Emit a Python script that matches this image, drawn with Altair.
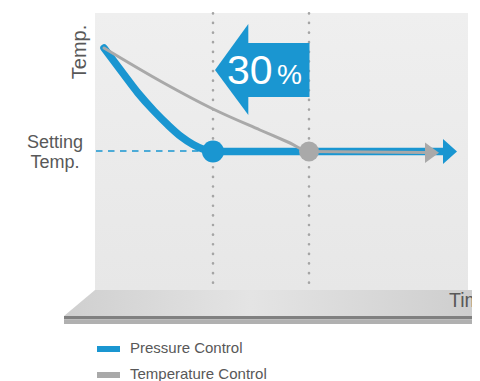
import altair as alt
import pandas as pd

# ---- values (time -> horizontal, temperature -> vertical, picture units) ----
pressure_time = [104, 122, 138, 154, 168, 181, 193, 204, 213, 444]
pressure_temp = [48, 72, 93, 111, 125, 136.5, 144.5, 149.5, 151.5, 151.5]
temperature_time = [104, 162, 213, 260, 290, 309, 426]
temperature_temp = [48, 82, 109, 130, 143, 151.5, 152.5]
reach_time = [213, 309]
reach_temp = [151.5, 151.5]
setting_temp = 151
time_start = 95
time_end = 468
temp_top = 13
temp_bottom = 290
saving_label = "30"
saving_unit = "%"
legend_labels = ["Pressure Control", "Temperature Control"]

BLUE = "#1a96d1"
GRAY = "#a9a9a9"
TEXT = "#585858"
FONT = "Liberation Sans"

XS = alt.Scale(domain=[8, 472], nice=False, zero=False)
YS = alt.Scale(domain=[8, 381], reverse=True, nice=False, zero=False)


def X(f="x"):
    return alt.X(f"{f}:Q", scale=XS, axis=None)


def Y(f="y"):
    return alt.Y(f"{f}:Q", scale=YS, axis=None)


def X2(f="x2"):
    return alt.X2(f"{f}:Q")


def Y2(f="y2"):
    return alt.Y2(f"{f}:Q")


def rect(df, color):
    return alt.Chart(df).mark_rect(color=color).encode(x=X(), x2=X2(), y=Y(), y2=Y2())


layers = []

# background panel
panel = pd.DataFrame({"x": [time_start], "x2": [time_end], "y": [temp_top], "y2": [temp_bottom]})
layers.append(alt.Chart(panel).mark_rect(
    color=alt.Gradient(gradient="linear", x1=0, x2=0, y1=0, y2=1,
                       stops=[alt.GradientStop(color="#efefef", offset=0),
                              alt.GradientStop(color="#e7e7e7", offset=1)])
).encode(x=X(), x2=X2(), y=Y(), y2=Y2()))

# floor (perspective)
floor = pd.DataFrame({"x": [64, 95, 480], "y": [316, 290, 290], "y2": [316, 316, 316]})
layers.append(alt.Chart(floor).mark_area(
    color=alt.Gradient(gradient="linear", x1=0, x2=1, y1=0, y2=0,
                       stops=[alt.GradientStop(color="#cfcfcf", offset=0),
                              alt.GradientStop(color="#e4e4e4", offset=0.45),
                              alt.GradientStop(color="#cdcdcd", offset=1)])
).encode(x=X(), y=Y(), y2=Y2()))
layers.append(rect(pd.DataFrame({"x": [64], "x2": [480], "y": [316], "y2": [319.3]}), "#808080"))
layers.append(rect(pd.DataFrame({"x": [64], "x2": [480], "y": [319.3], "y2": [324]}), "#b0b0b0"))

# dotted time markers
markers = pd.DataFrame({"x": reach_time, "y": [13.3, 13.3], "y2": [283, 283]})
layers.append(alt.Chart(markers).mark_rule(
    color="#a5a5a5", strokeWidth=2.6, strokeDash=[0.1, 9.52], strokeCap="round"
).encode(x=X(), y=Y(), y2=Y2()))

# setting temperature dashed line
setting = pd.DataFrame({"x": [96], "x2": [205], "y": [setting_temp]})
layers.append(alt.Chart(setting).mark_rule(
    color=BLUE, strokeWidth=1.3, strokeDash=[6.5, 5.5]
).encode(x=X(), x2=X2(), y=Y()))

# big arrow (30 % shorter)
head = pd.DataFrame({"x": [215, 248.3], "y": [70, 24], "y2": [70, 115]})
layers.append(alt.Chart(head).mark_area(color=BLUE, opacity=1).encode(x=X(), y=Y(), y2=Y2()))
layers.append(rect(pd.DataFrame({"x": [248], "x2": [309.5], "y": [43], "y2": [97]}), BLUE))

# pressure control line
pdf = pd.DataFrame({"x": pressure_time, "y": pressure_temp})
layers.append(alt.Chart(pdf).mark_line(
    color=BLUE, strokeWidth=7.5, strokeCap="round", strokeJoin="round", interpolate="monotone"
).encode(x=X(), y=Y()))
phead = pd.DataFrame({"x": [443, 457], "y": [139, 151.5], "y2": [164, 151.5]})
layers.append(alt.Chart(phead).mark_area(color=BLUE).encode(x=X(), y=Y(), y2=Y2()))
layers.append(alt.Chart(pd.DataFrame({"x": reach_time[:1], "y": reach_temp[:1]})).mark_circle(
    color=BLUE, opacity=1, size=484).encode(x=X(), y=Y()))

# temperature control line
tdf = pd.DataFrame({"x": temperature_time, "y": temperature_temp})
layers.append(alt.Chart(tdf).mark_line(
    color=GRAY, strokeWidth=3, strokeCap="round", strokeJoin="round", interpolate="monotone"
).encode(x=X(), y=Y()))
thead = pd.DataFrame({"x": [425, 439], "y": [142.5, 152.7], "y2": [163, 152.7]})
layers.append(alt.Chart(thead).mark_area(color=GRAY).encode(x=X(), y=Y(), y2=Y2()))
layers.append(alt.Chart(pd.DataFrame({"x": reach_time[1:], "y": reach_temp[1:]})).mark_circle(
    color=GRAY, opacity=1, size=400).encode(x=X(), y=Y()))

# 30 %
layers.append(alt.Chart(pd.DataFrame({"x": [227], "y": [83.5], "t": [saving_label]})).mark_text(
    color="white", fontSize=41, font=FONT, align="left", baseline="alphabetic"
).encode(x=X(), y=Y(), text="t:N"))
layers.append(alt.Chart(pd.DataFrame({"x": [277], "y": [83.5], "t": [saving_unit]})).mark_text(
    color="white", fontSize=28, font=FONT, align="left", baseline="alphabetic"
).encode(x=X(), y=Y(), text="t:N"))

# axis labels
layers.append(alt.Chart(pd.DataFrame({"x": [85.5], "y": [52], "t": ["Temp."]})).mark_text(
    color=TEXT, fontSize=20, font=FONT, align="center", baseline="alphabetic", angle=270
).encode(x=X(), y=Y(), text="t:N"))
layers.append(alt.Chart(pd.DataFrame({"x": [55, 55], "y": [148, 168], "t": ["Setting", "Temp."]})).mark_text(
    color=TEXT, fontSize=18, font=FONT, align="center", baseline="alphabetic"
).encode(x=X(), y=Y(), text="t:N"))
layers.append(alt.Chart(pd.DataFrame({"x": [449], "y": [307], "t": ["Time"]})).mark_text(
    color=TEXT, fontSize=19.5, font=FONT, align="left", baseline="alphabetic"
).encode(x=X(), y=Y(), text="t:N"))

# legend
layers.append(rect(pd.DataFrame({"x": [97], "x2": [120], "y": [346], "y2": [352]}), BLUE))
layers.append(rect(pd.DataFrame({"x": [97], "x2": [120], "y": [372], "y2": [378]}), GRAY))
leg = pd.DataFrame({"x": [130, 130], "y": [352.5, 378.5], "s": legend_labels})
layers.append(alt.Chart(leg).mark_text(
    color=TEXT, fontSize=15, font=FONT, align="left", baseline="alphabetic"
).encode(x=X(), y=Y(), text="s:N"))

chart = alt.layer(*layers).properties(
    width=464, height=373, padding=0, autosize=alt.AutoSizeParams(type="none"), background="white"
).configure_view(stroke=None)

chart.save("out.html", embed_options={"renderer": "svg", "actions": False})
